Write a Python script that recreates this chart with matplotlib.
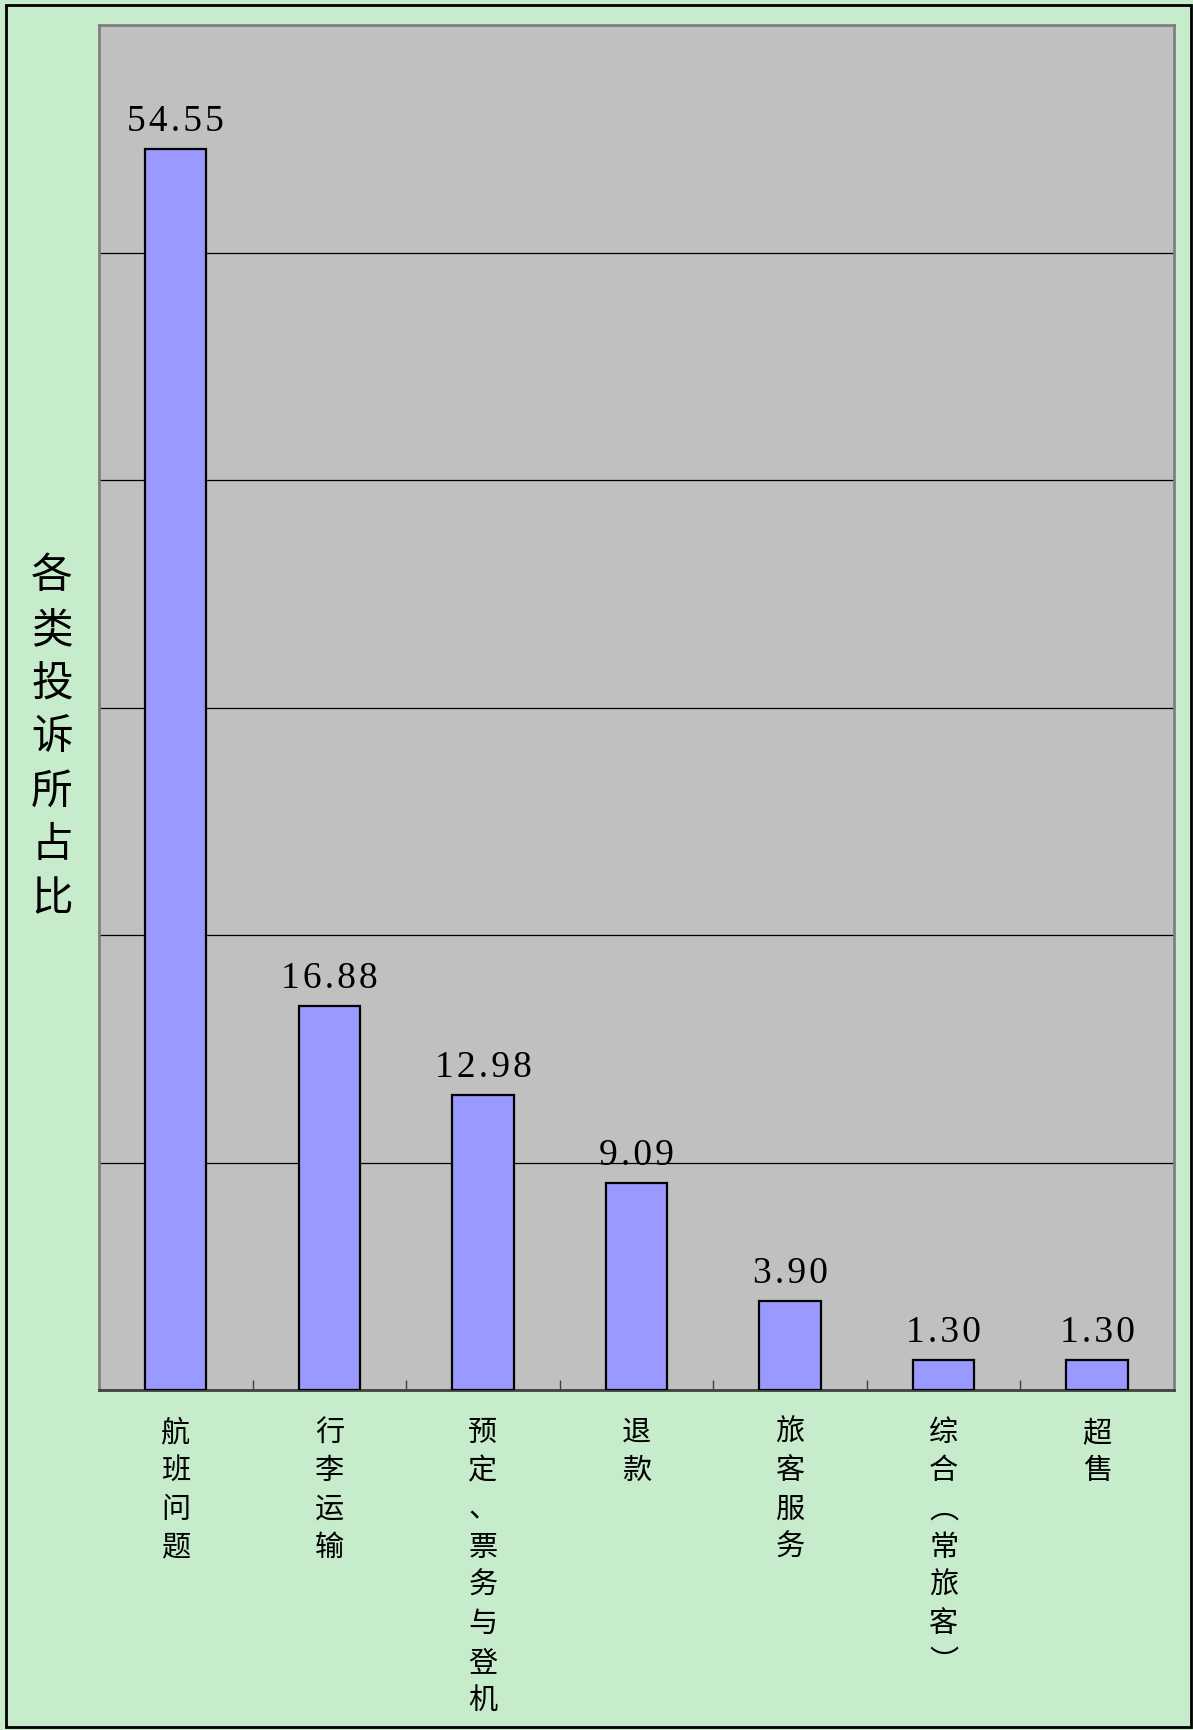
import matplotlib.pyplot as plt
from matplotlib.patches import Rectangle

plt.rcParams['font.family'] = ['Noto Sans CJK SC', 'DejaVu Sans']

# 数据
categories = ['航班问题', '行李运输', '预定、票务与登机', '退款', '旅客服务', '综合（常旅客）', '超售']
values = [54.55, 16.88, 12.98, 9.09, 3.90, 1.30, 1.30]
y_label = '各类投诉所占比'

# 竖排时括号用竖排形式
vert_map = {'（': '︵', '）': '︶'}

def vertical(s):
    return '\n'.join(vert_map.get(ch, ch) for ch in s)

W, H = 1193, 1731
fig = plt.figure(figsize=(W / 100, H / 100), dpi=100)
fig.patch.set_facecolor('#C6ECCC')

ax = fig.add_axes([99 / W, 1 - 1391 / H, (1174 - 99) / W, (1391 - 26) / H])
ax.set_facecolor('#C0C0C0')

x = range(len(categories))
ax.bar(x, values, width=0.4, color='#9999FF', edgecolor='black', linewidth=1.6, zorder=3)

ax.set_xlim(-0.5, len(categories) - 0.5)
ax.set_ylim(0, 60)
ax.set_yticks(range(0, 61, 10))
ax.set_yticklabels([])
ax.tick_params(axis='y', length=0)
ax.grid(axis='y', color='black', linewidth=0.9, zorder=1)

ax.set_xticks([i + 0.5 for i in range(len(categories) - 1)])
ax.set_xticklabels([])
ax.tick_params(axis='x', direction='in', length=7, width=1, color='#404040')

for side in ['left', 'top', 'right']:
    ax.spines[side].set_color('#808080')
    ax.spines[side].set_linewidth(2)
ax.spines['bottom'].set_color('#404040')
ax.spines['bottom'].set_linewidth(2)

# 数值标签（字距稍宽）
for i, v in enumerate(values):
    ax.annotate('\u200a'.join(f'{v:.2f}'), xy=(i, v), xytext=(0, 11), textcoords='offset pixels',
                ha='center', va='bottom', fontsize=27, family='Liberation Serif')

# 类别标签（竖排）
for i, c in enumerate(categories):
    ax.annotate(vertical(c), xy=(i, 0), xycoords=('data', 'axes fraction'),
                xytext=(0, -27), textcoords='offset pixels',
                ha='center', va='top', fontsize=21, linespacing=1.36)

fig.text(52 / W, 1 - 738 / H, vertical(y_label), ha='center', va='center',
         fontsize=30, linespacing=1.4)

# 外边框
fig.patches.append(Rectangle((6 / W, 3 / H), 1 - 8 / W, 1 - 9 / H, transform=fig.transFigure,
                             fill=False, edgecolor='black', linewidth=2))

fig.savefig('out.png', dpi=100, facecolor=fig.get_facecolor())
